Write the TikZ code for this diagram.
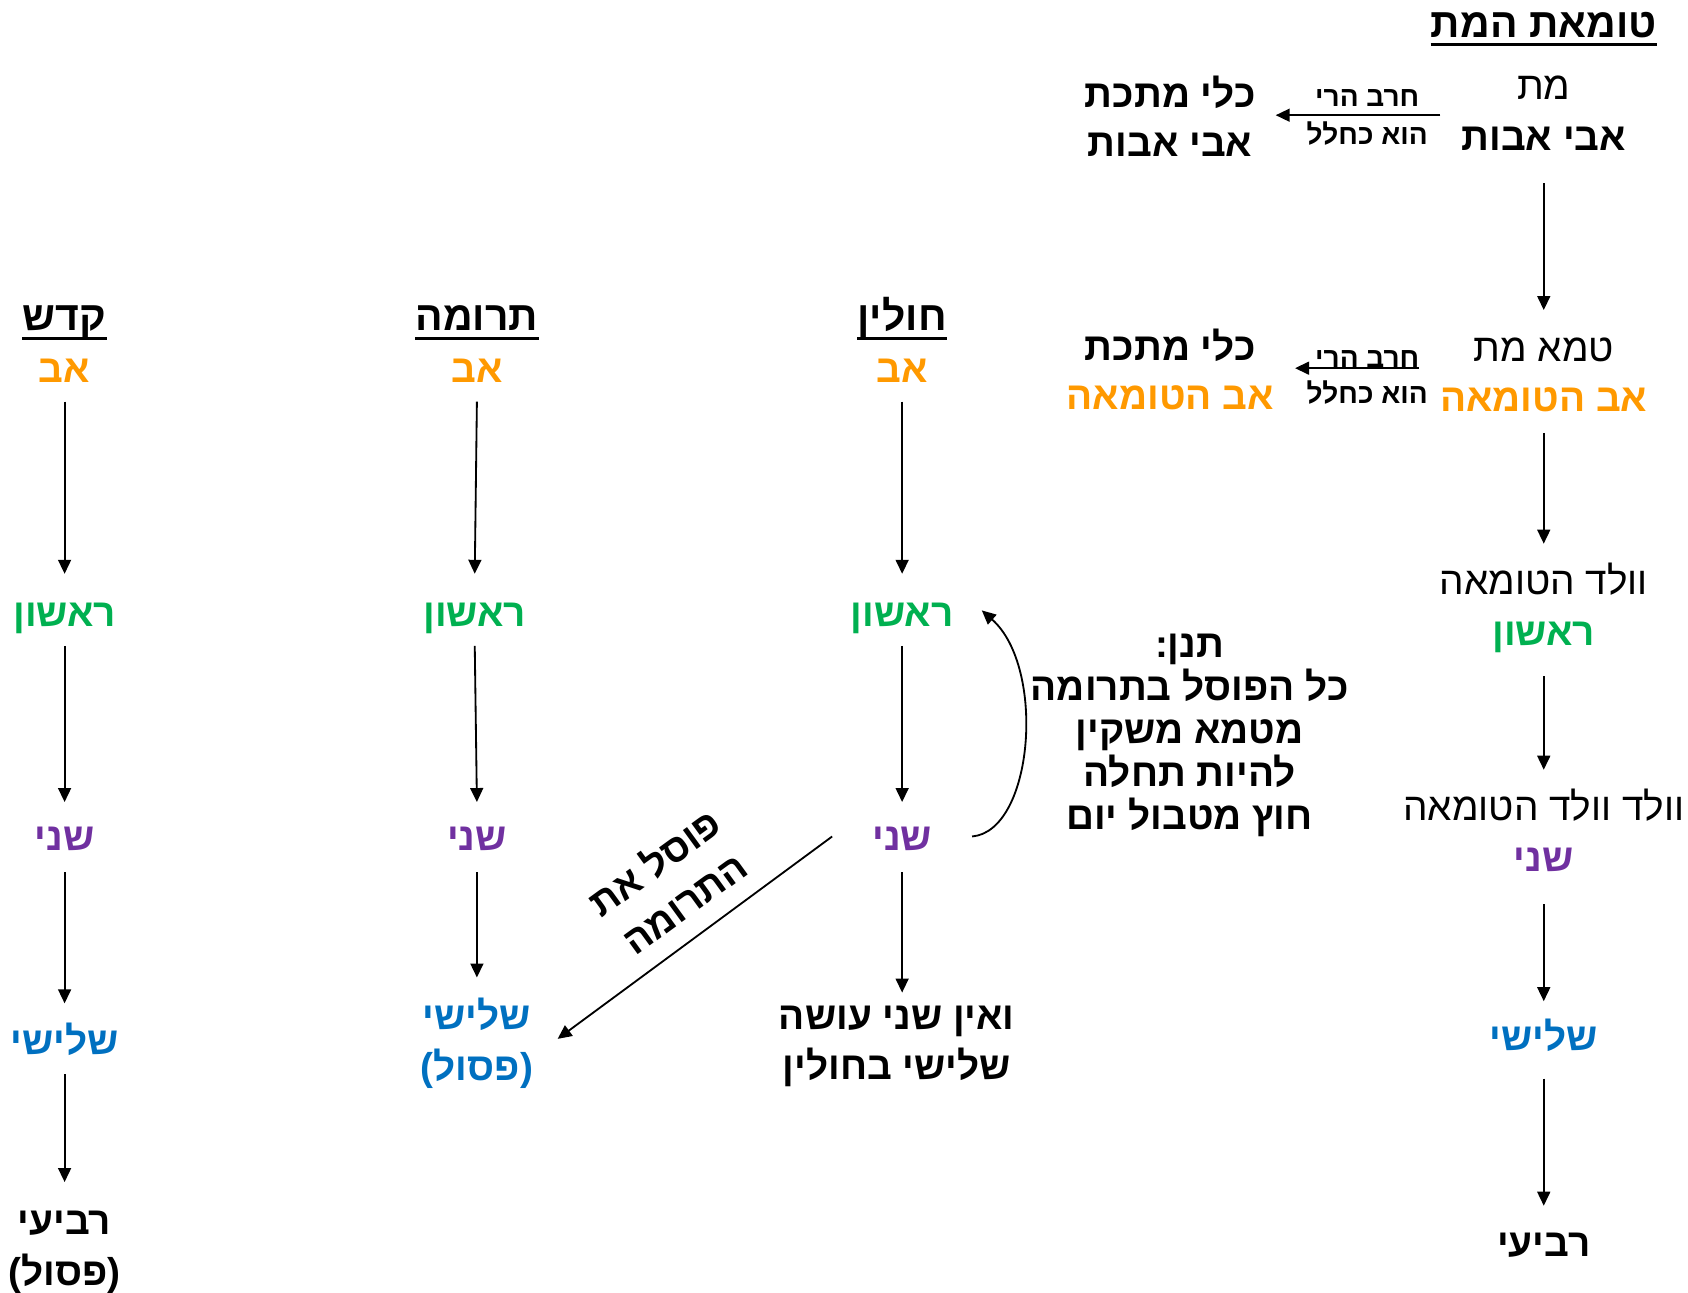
\documentclass[tikz,border=0pt]{standalone}
\usepackage{fontspec}
\setmainfont{Liberation Sans}
\newfontfamily\heb[Script=Hebrew]{Liberation Sans}
\TeXXeTstate=1
\usetikzlibrary{calc,arrows.meta}
\newcommand\hb[1]{\beginR #1\endR}
\definecolor{cOrange}{HTML}{FF9900}
\definecolor{cGreen}{HTML}{00B050}
\definecolor{cPurple}{HTML}{7030A0}
\definecolor{cBlue}{HTML}{0070C0}
\tikzset{
  lbl/.style={inner sep=0pt, font=\heb\bfseries\fontsize{18}{21}\selectfont, text height=12.4pt, text depth=0pt},
  reg/.style={lbl, font=\heb\fontsize{18}{21}\selectfont},
  hdr/.style={lbl, font=\heb\bfseries\fontsize{19}{23}\selectfont},
  small/.style={inner sep=0pt, font=\heb\bfseries\fontsize{13}{15}\selectfont, text height=9pt, text depth=0pt},
  multi/.style={inner sep=0pt, font=\heb\bfseries\fontsize{18}{23.5}\selectfont, align=center},
  note/.style={inner sep=0pt, font=\heb\bfseries\fontsize{18}{20}\selectfont, align=center},
  arr/.style={-{Triangle[length=6.5pt,width=6pt]}, line width=0.85pt},
  uline/.style={line width=1.4pt},
}
\begin{document}
\begin{tikzpicture}[x=0.5pt,y=-0.5pt]
\useasboundingbox (0,0) rectangle (1568,1201);
% headers
\node[hdr] (hK) at (60,295) {\hb{קדש}};
\node[hdr] (hT) at (443,295) {\hb{תרומה}};
\node[hdr] (hC) at (838,295) {\hb{חולין}};
\node[hdr] (hR) at (1434,22) {\hb{טומאת המת}};
\foreach \h in {hK,hT,hC,hR}{
  \draw[uline] ($(\h.west)+(0,19)$) -- ($(\h.east)+(0,19)$);
}
% column kodesh
\node[lbl,text=cOrange] (K1) at (60,343) {\hb{אב}};
\node[lbl,text=cGreen] (K2) at (60,570) {\hb{ראשון}};
\node[lbl,text=cPurple] (K3) at (60,778) {\hb{שני}};
\node[lbl,text=cBlue] (K4) at (60,967) {\hb{שלישי}};
\node[multi] (K5) at (60,1163) {\hb{רביעי}\\\hb{(פסול)}};
\draw[arr] ($(K1)+(0,30)$) -- ($(K2)+(0,-37)$);
\draw[arr] ($(K2)+(0,30)$) -- ($(K3)+(0,-33)$);
\draw[arr] ($(K3)+(0,32)$) -- ($(K4)+(0,-35)$);
\draw[arr] ($(K4)+(0,31)$) -- ($(K5)+(0,-65)$);
% column truma
\node[lbl,text=cOrange] (T1) at (443,343) {\hb{אב}};
\node[lbl,text=cGreen] (T2) at (441,570) {\hb{ראשון}};
\node[lbl,text=cPurple] (T3) at (443,778) {\hb{שני}};
\node[multi,text=cBlue] (T4) at (443,969) {\hb{שלישי}\\\hb{(פסול)}};
\draw[arr] ($(T1)+(0,30)$) -- ($(T2)+(0,-37)$);
\draw[arr] ($(T2)+(0,30)$) -- ($(T3)+(0,-33)$);
\draw[arr] ($(T3)+(0,32)$) -- ($(T4)+(0,-61)$);
% column chullin
\node[lbl,text=cOrange] (C1) at (838,343) {\hb{אב}};
\node[lbl,text=cGreen] (C2) at (838,570) {\hb{ראשון}};
\node[lbl,text=cPurple] (C3) at (838,778) {\hb{שני}};
\node[multi] (C4) at (833,972) {\hb{ואין שני עושה}\\\hb{שלישי בחולין}};
\draw[arr] ($(C1)+(0,30)$) -- ($(C2)+(0,-37)$);
\draw[arr] ($(C2)+(0,30)$) -- ($(C3)+(0,-33)$);
\draw[arr] ($(C3)+(0,32)$) -- ($(C4)+(5,-50)$);
\draw[arr] ($(C3)+(-65,-1)$) -- ($(T4)+(75,-4)$);
\node[multi,rotate=36] (PL) at (621,819) {\hb{פוסל את}\\\hb{התרומה}};
\draw[arr] ($(C3)+(65,-1)$) .. controls (960,772) and (972,620) .. ($(C2)+(74,-3)$);
\node[note] (N) at (1105,683) {\hb{תנן:}\\\hb{כל הפוסל בתרומה}\\\hb{מטמא משקין}\\\hb{להיות תחלה}\\\hb{חוץ מטבול יום}};
% right column
\node[reg] (R1a) at (1434,80) {\hb{מת}};
\node[lbl] (R1b) at (1434,127) {\hb{אבי אבות}};
\node[reg] (R2a) at (1434,323) {\hb{טמא מת}};
\node[lbl,text=cOrange] (R2b) at (1434,370) {\hb{אב הטומאה}};
\node[reg] (R3a) at (1434,540) {\hb{וולד הטומאה}};
\node[lbl,text=cGreen] (R3b) at (1434,587) {\hb{ראשון}};
\node[reg] (R4a) at (1434,750) {\hb{וולד וולד הטומאה}};
\node[lbl,text=cPurple] (R4b) at (1434,797) {\hb{שני}};
\node[lbl,text=cBlue] (R5) at (1434,963) {\hb{שלישי}};
\node[lbl] (R6) at (1434,1155) {\hb{רביעי}};
\draw[arr] ($(R1b)+(0,43)$) -- ($(R2a)+(0,-35)$);
\draw[arr] ($(R2b)+(0,32)$) -- ($(R3a)+(0,-35)$);
\draw[arr] ($(R3b)+(0,41)$) -- ($(R4a)+(0,-35)$);
\draw[arr] ($(R4b)+(0,43)$) -- ($(R5)+(0,-33)$);
\draw[arr] ($(R5)+(0,39)$) -- ($(R6)+(0,-35)$);
% metal vessels
\node[lbl] (M1a) at (1087,87) {\hb{כלי מתכת}};
\node[lbl] (M1b) at (1087,133) {\hb{אבי אבות}};
\node[lbl] (M2a) at (1087,322) {\hb{כלי מתכת}};
\node[lbl,text=cOrange] (M2b) at (1087,368) {\hb{אב הטומאה}};
\node[small] (L1a) at (1270,90) {\hb{חרב הרי}};
\node[small] (L1b) at (1270,125) {\hb{הוא כחלל}};
\node[small] (L2a) at (1270,332) {\hb{חרב הרי}};
\node[small] (L2b) at (1270,366) {\hb{הוא כחלל}};
\draw[arr] ($(R1b)+(-96,-20)$) -- ($(M1b)+(98,-26)$);
\draw[arr] ($(R2b)+(-116,-28)$) -- ($(M2b)+(116,-26)$);
\end{tikzpicture}
\end{document}
